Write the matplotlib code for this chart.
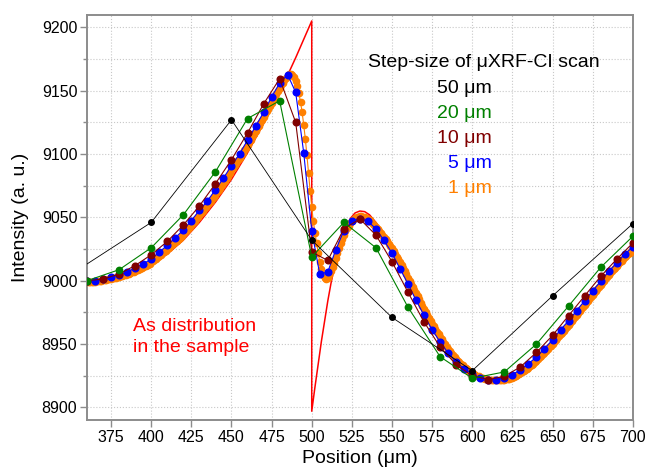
import numpy as np
import matplotlib
matplotlib.use("Agg")
import matplotlib.pyplot as plt
from matplotlib.ticker import MultipleLocator

plt.rcParams["font.family"] = ["Liberation Sans", "DejaVu Sans"]

# "As distribution in the sample" (red line)
red_x = [360, 370, 380, 390, 400, 410, 420, 430, 440, 450, 460, 470, 480, 486, 490, 500,
         500, 502, 504, 506, 508, 510, 512, 515, 518, 521, 524, 527, 530, 533, 536, 540,
         545, 550, 560, 570, 580, 590, 600, 610, 615, 620, 630, 640, 650, 660, 670, 680,
         690, 700]
red_y = [9000, 9000.5, 9002, 9006, 9012, 9021, 9032, 9046, 9062, 9080, 9101, 9124, 9149, 9165, 9176, 9205,
         8897, 8916, 8934, 8952, 8968, 8984, 8998, 9016, 9030, 9041, 9049, 9053.5, 9055, 9054.5, 9052, 9046,
         9036, 9024, 8999, 8974, 8952, 8934, 8924, 8919.5, 8919, 8920.5, 8926, 8936, 8949, 8963.5, 8979, 8995,
         9011, 9027]

# 50 um step
x50 = [350, 400, 450, 500, 550, 600, 650, 700]
y50 = [9005, 9046, 9127, 9032, 8971, 8929, 8988, 9045]

# 20 um step
x20 = np.arange(360, 701, 20)
y20 = [9000, 9008.7, 9026, 9052, 9086, 9128, 9142, 9018.7, 9046, 9026,
       8979, 8940, 8923, 8928, 8950, 8980, 9010.5, 9035]

# 10 um step
x10 = np.arange(360, 701, 10)
y10 = [9000.0, 9001.3, 9005.3, 9012.0, 9020.5, 9031.0, 9044.0, 9059.0, 9076.6, 9095.5,
       9116.6, 9139.5, 9159.4, 9125.0, 9022.6, 9016.0, 9041.0, 9048.7, 9036.0, 9015.0,
       8990.8, 8967.4, 8947.7, 8933.7, 8925.0, 8922.0, 8924.5, 8932.0, 8943.4, 8956.8,
       8972.4, 8988.0, 9003.4, 9017.0, 9029.7]

# 5 um step
x5 = np.arange(360, 701, 5)
y5 = [8999.8, 9000.0, 9001.0, 9002.6, 9004.7, 9006.8, 9010.0, 9013.4, 9017.0, 9022.6,
      9027.9, 9034.0, 9040.0, 9047.5, 9055.5, 9063.0, 9071.8, 9081.0, 9090.8, 9100.0,
      9111.0, 9121.8, 9132.8, 9145.0, 9156.0, 9162.6, 9148.6, 9101.0, 9039.5, 9005.0,
      9007.0, 9024.5, 9039.5, 9047.0, 9049.0, 9046.8, 9041.0, 9031.8, 9021.8, 9009.5,
      8997.4, 8984.5, 8972.6, 8961.3, 8951.6, 8943.0, 8935.8, 8930.5, 8926.6, 8923.2,
      8922.0, 8922.0, 8923.2, 8925.8, 8929.8, 8934.5, 8939.8, 8946.3, 8953.4, 8961.3,
      8968.4, 8976.3, 8984.2, 8992.0, 8999.5, 9007.3, 9014.0, 9021.0, 9026.6]

# 1 um step
x1 = np.arange(360, 701, 1)
y1 = [
    8999.0, 8999.0, 8999.1, 8999.1, 8999.2, 8999.3, 8999.5, 8999.7, 8999.9, 9000.0,  # 360
    9000.2, 9000.4, 9000.7, 9001.0, 9001.3, 9001.6, 9001.9, 9002.2, 9002.5, 9002.8,  # 370
    9003.1, 9003.5, 9003.9, 9004.3, 9004.7, 9005.1, 9005.6, 9006.1, 9006.6, 9007.1,  # 380
    9007.6, 9008.2, 9008.8, 9009.4, 9010.0, 9010.6, 9011.3, 9012.0, 9012.7, 9013.5,  # 390
    9014.5, 9015.5, 9016.5, 9017.5, 9018.5, 9019.5, 9020.5, 9021.6, 9022.7, 9023.8,  # 400
    9025.0, 9026.1, 9027.2, 9028.3, 9029.4, 9030.5, 9031.7, 9032.9, 9034.1, 9035.5,  # 410
    9037.0, 9038.4, 9039.8, 9041.2, 9042.6, 9044.0, 9045.5, 9047.0, 9048.5, 9050.0,  # 420
    9051.5, 9053.1, 9054.7, 9056.3, 9057.9, 9059.5, 9061.2, 9062.9, 9064.6, 9066.3,  # 430
    9068.0, 9069.8, 9071.6, 9073.4, 9075.2, 9077.1, 9079.0, 9081.0, 9083.0, 9085.0,  # 440
    9087.0, 9089.0, 9091.0, 9093.0, 9095.0, 9097.0, 9099.0, 9101.0, 9103.0, 9105.0,  # 450
    9107.0, 9109.2, 9111.4, 9113.6, 9115.8, 9118.0, 9120.2, 9122.4, 9124.6, 9126.8,  # 460
    9129.0, 9131.3, 9133.6, 9135.9, 9138.2, 9140.5, 9142.8, 9145.1, 9147.4, 9149.7,  # 470
    9152.0, 9154.2, 9156.3, 9158.2, 9160.0, 9161.6, 9163.0, 9163.5, 9162.5, 9160.5,  # 480
    9157.5, 9153.5, 9148.0, 9141.0, 9133.0, 9123.0, 9112.0, 9099.0, 9085.0, 9071.0,  # 490
    9058.0, 9047.0, 9038.0, 9030.0, 9022.0, 9015.0, 9009.0, 9004.5, 9002.0, 9001.5,  # 500
    9002.5, 9004.5, 9007.5, 9010.5, 9014.0, 9018.0, 9022.0, 9026.0, 9029.5, 9033.0,  # 510
    9036.0, 9039.0, 9041.5, 9043.5, 9045.5, 9047.0, 9048.2, 9049.2, 9050.0, 9050.5,  # 520
    9050.8, 9050.8, 9050.6, 9050.2, 9049.5, 9048.6, 9047.6, 9046.4, 9045.1, 9043.7,  # 530
    9042.2, 9040.7, 9039.2, 9037.7, 9036.1, 9034.5, 9032.8, 9031.0, 9029.2, 9027.4,  # 540
    9025.5, 9023.4, 9021.3, 9019.1, 9016.8, 9014.5, 9012.1, 9009.7, 9007.3, 9004.9,  # 550
    9002.5, 9000.0, 8997.5, 8995.0, 8992.5, 8990.0, 8987.6, 8985.2, 8982.8, 8980.4,  # 560
    8978.0, 8975.6, 8973.2, 8970.8, 8968.4, 8966.0, 8963.9, 8961.8, 8959.7, 8957.6,  # 570
    8955.5, 8953.6, 8951.7, 8949.8, 8947.9, 8946.0, 8944.4, 8942.8, 8941.2, 8939.6,  # 580
    8938.0, 8936.8, 8935.6, 8934.4, 8933.2, 8932.0, 8931.0, 8930.0, 8929.0, 8928.0,  # 590
    8927.0, 8926.3, 8925.6, 8925.0, 8924.4, 8923.8, 8923.4, 8923.0, 8922.6, 8922.3,  # 600
    8922.0, 8921.8, 8921.6, 8921.5, 8921.4, 8921.3, 8921.3, 8921.4, 8921.5, 8921.6,  # 610
    8921.8, 8922.1, 8922.4, 8922.8, 8923.2, 8923.6, 8924.2, 8924.8, 8925.5, 8926.1,  # 620
    8926.8, 8927.7, 8928.6, 8929.5, 8930.4, 8931.3, 8932.4, 8933.5, 8934.6, 8935.7,  # 630
    8936.8, 8938.1, 8939.4, 8940.6, 8941.9, 8943.2, 8944.6, 8946.0, 8947.4, 8948.8,  # 640
    8950.2, 8951.7, 8953.2, 8954.6, 8956.1, 8957.6, 8959.1, 8960.6, 8962.2, 8963.7,  # 650
    8965.2, 8966.8, 8968.3, 8969.9, 8971.4, 8973.0, 8974.6, 8976.2, 8977.8, 8979.4,  # 660
    8981.0, 8982.6, 8984.2, 8985.8, 8987.4, 8989.0, 8990.6, 8992.2, 8993.8, 8995.4,  # 670
    8997.0, 8998.5, 9000.0, 9001.6, 9003.1, 9004.6, 9006.0, 9007.5, 9008.9, 9010.4,  # 680
    9011.8, 9013.1, 9014.5, 9015.8, 9017.1, 9018.4, 9019.6, 9020.8, 9022.1, 9023.3,  # 690
    9024.5,                                                                          # 700
]

labels = ["50 \u03bcm", "20 \u03bcm", "10 \u03bcm", "5 \u03bcm", "1 \u03bcm"]
colors = ["black", "#008000", "#800000", "#0000ff", "#ff8000"]

fig = plt.figure(figsize=(6.47, 4.72), dpi=100)
ax = fig.add_axes([0.1345, 0.110, 0.8435, 0.859])

ax.plot(red_x, red_y, color="red", lw=1.1, zorder=2)
ax.plot(x1, y1, "-o", color=colors[4], lw=0.8, ms=4.5, mec=colors[4], zorder=3)
ax.plot(x5, y5, "-o", color=colors[3], lw=0.8, ms=4.8, zorder=4)
ax.plot(x10, y10, "-o", color=colors[2], lw=0.8, ms=4.8, zorder=5)
ax.plot(x20, y20, "-o", color=colors[1], lw=0.8, ms=4.6, zorder=6)
ax.plot(x50, y50, "-o", color=colors[0], lw=0.6, ms=4, zorder=7)

ax.set_xlim(360, 700)
ax.set_ylim(8890, 9210)
ax.xaxis.set_major_locator(MultipleLocator(25))
ax.yaxis.set_major_locator(MultipleLocator(50))
ax.yaxis.set_minor_locator(MultipleLocator(25))
ax.grid(True, which="both", ls=":", color="#c8c8c8", lw=0.8, zorder=0)
ax.set_axisbelow(True)

for s in ax.spines.values():
    s.set_color("#8c8c8c")
    s.set_linewidth(1.4)
ax.tick_params(which="major", direction="out", length=5, width=1, color="#8c8c8c",
               labelsize=11.5, pad=2)
ax.tick_params(which="minor", direction="out", length=3, width=1, color="#8c8c8c")

ax.set_xlabel("Position (\u03bcm)", fontsize=14, labelpad=4)
ax.set_ylabel("Intensity (a. u.)", fontsize=14, labelpad=9)

ax.text(0.727, 0.881, "Step-size of \u03bcXRF-CI scan", transform=ax.transAxes,
        ha="center", va="center", fontsize=14)
for i, (lab, c) in enumerate(zip(labels, colors)):
    ax.text(0.742, 0.818 - i * 0.0617, lab, transform=ax.transAxes, ha="right",
            va="center", fontsize=14, color=c)

ax.text(0.084, 0.2055, "As distribution\nin the sample", transform=ax.transAxes,
        ha="left", va="center", fontsize=14, color="red", linespacing=1.3)

fig.savefig("out.png", dpi=100)
